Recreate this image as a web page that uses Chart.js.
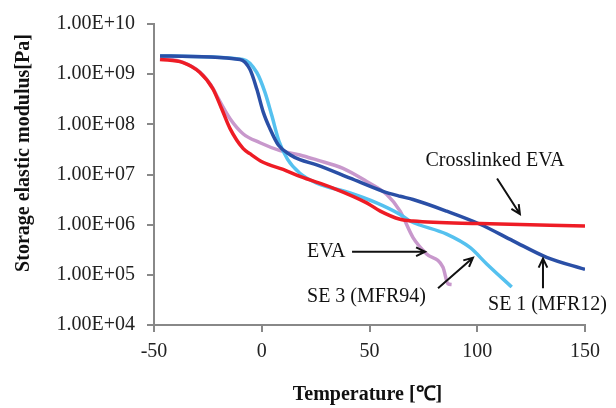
<!DOCTYPE html>
<html>
<head>
<meta charset="utf-8">
<script src="https://cdn.jsdelivr.net/npm/chart.js@4.4.1/dist/chart.umd.min.js"></script>
<style>
  html, body { margin: 0; padding: 0; background: #fff; }
  #myChart { display: block; }
</style>
</head>
<body>
<canvas id="myChart" width="616" height="408"></canvas>
<script>
// storage modulus vs temperature, one pair of arrays per sample
let xlTemp = [-47.2, -36.5, -28.7, -22.6, -18.6, -14.7, -8.7, -5.5, 0.6, 9.9, 17.7, 33.1, 48.7, 55, 64.2, 70.2, 101.3, 150];
let xlModulus = [1.97e9, 1.70e9, 1.08e9, 5.05e8, 2.04e8, 8.2e7, 3.31e7, 2.6e7, 1.75e7, 1.26e7, 9.14e6, 5.37e6, 2.72e6, 1.86e6, 1.28e6, 1.18e6, 1.05e6, 9.4e5];

let se1Temp = [-47.2, -10.1, -5.5, -2.3, 0.7, 3.8, 7.7, 13.1, 17.7, 25.5, 41, 56.3, 64.2, 70.2, 85.8, 101.3, 116.6, 132.2, 150];
let se1Modulus = [2.31e9, 1.97e9, 1.25e9, 5.05e8, 1.75e8, 8.2e7, 3.86e7, 2.48e7, 1.98e7, 1.56e7, 8.46e6, 4.62e6, 3.68e6, 3.17e6, 1.86e6, 1.02e6, 4.76e5, 2.23e5, 1.28e5];

let se3Temp = [-47.2, -8.7, -2.3, 1.5, 4.6, 8.0, 12.0, 17.7, 25.5, 41, 53.3, 64.2, 68.8, 85.8, 96.6, 104.4, 116];
let se3Modulus = [2.31e9, 1.97e9, 1.08e9, 4.34e8, 1.53e8, 4.6e7, 2.0e7, 1.06e7, 6.73e6, 4.28e6, 2.72e6, 1.60e6, 1.18e6, 6.46e5, 3.51e5, 1.65e5, 5.7e4];

let evaTemp = [-47.2, -36.5, -28.7, -22.6, -20.9, -14.7, -8.7, -0.8, 8.5, 17.7, 25.5, 37.7, 48.7, 58, 64.2, 70.2, 76.5, 84.1, 86.4, 88.1];
let evaModulus = [2.13e9, 1.72e9, 1.1e9, 5.2e8, 3.74e8, 1.29e8, 6.5e7, 4.3e7, 3.0e7, 2.45e7, 1.95e7, 1.33e7, 7.28e6, 3.98e6, 1.86e6, 5.53e5, 2.6e5, 1.42e5, 6.65e4, 6.4e4];

let xTicks = [-50, 0, 50, 100, 150];
let yExponents = [4, 5, 6, 7, 8, 9, 10];

function pts(t, v) {
  return t.map((x, i) => ({ x: x, y: v[i] }));
}

function line(label, t, v, color) {
  return {
    label: label,
    data: pts(t, v),
    borderColor: color,
    borderWidth: 3.5,
    pointRadius: 0,
    fill: false,
    cubicInterpolationMode: "monotone",
  };
}

// callouts, placed in data units (temperature, modulus)
let notes = [
  { text: "Crosslinked EVA", x: 108.2, y: 10 ** 7.277, align: "center", from: [109.2, 10 ** 6.921], to: [119.8, 10 ** 6.211] },
  { text: "EVA", x: 21.0, y: 10 ** 5.461, align: "left", from: [41.9, 10 ** 5.461], to: [75.8, 10 ** 5.461] },
  { text: "SE 3 (MFR94)", x: 21.0, y: 10 ** 4.573, align: "left", from: [81.8, 10 ** 4.731], to: [98.0, 10 ** 5.342] },
  { text: "SE 1 (MFR12)", x: 105.0, y: 10 ** 4.395, align: "left", from: [130.5, 10 ** 4.731], to: [130.5, 10 ** 5.323] },
];

let serif = "'Liberation Serif', 'Times New Roman', serif";

let notesPlugin = {
  id: "notes",
  afterDraw(chart) {
    let ctx = chart.ctx;
    let xs = chart.scales.x;
    let ys = chart.scales.y;
    ctx.save();
    ctx.fillStyle = "#111";
    ctx.strokeStyle = "#111";
    ctx.lineWidth = 2;
    ctx.font = "20px " + serif;
    ctx.textBaseline = "middle";
    notes.forEach((n) => {
      ctx.textAlign = n.align;
      ctx.fillText(n.text, xs.getPixelForValue(n.x), ys.getPixelForValue(n.y));
      let x0 = xs.getPixelForValue(n.from[0]);
      let y0 = ys.getPixelForValue(n.from[1]);
      let x1 = xs.getPixelForValue(n.to[0]);
      let y1 = ys.getPixelForValue(n.to[1]);
      let a = Math.atan2(y1 - y0, x1 - x0);
      ctx.beginPath();
      ctx.moveTo(x0, y0);
      ctx.lineTo(x1, y1);
      ctx.moveTo(x1 - 10 * Math.cos(a - 0.45), y1 - 10 * Math.sin(a - 0.45));
      ctx.lineTo(x1, y1);
      ctx.lineTo(x1 - 10 * Math.cos(a + 0.45), y1 - 10 * Math.sin(a + 0.45));
      ctx.stroke();
    });

    // axis titles
    ctx.font = "bold 20px " + serif;
    ctx.textAlign = "center";
    ctx.fillText("Temperature [\u2103]", (xs.left + xs.right) / 2 - 2, 395);
    ctx.translate(24, 153);
    ctx.rotate(-Math.PI / 2);
    ctx.fillText("Storage elastic modulus[Pa]", 0, 0);
    ctx.restore();
  },
};

let myChart = document.getElementById("myChart").getContext("2d");

let config = {
  type: "line",
  data: {
    datasets: [
      line("Crosslinked EVA", xlTemp, xlModulus, "#ee1c25"),
      line("SE 1 (MFR12)", se1Temp, se1Modulus, "#2a4fa6"),
      line("SE 3 (MFR94)", se3Temp, se3Modulus, "#55c1ef"),
      line("EVA", evaTemp, evaModulus, "#c898cc"),
    ],
  },
  options: {
    responsive: false,
    animation: false,
    devicePixelRatio: 1,
    layout: { padding: { top: 21, right: 31, left: 0, bottom: 0 } },
    plugins: { legend: { display: false }, tooltip: { enabled: false } },
    scales: {
      x: {
        type: "linear",
        min: -50,
        max: 150,
        afterFit(scale) {
          scale.height = 83;
        },
        afterBuildTicks(scale) {
          scale.ticks = xTicks.map((v) => ({ value: v }));
        },
        grid: { drawOnChartArea: false, drawTicks: true, tickLength: 7, color: "#888", lineWidth: 2 },
        border: { display: true, color: "#888", width: 2 },
        ticks: { color: "#222", font: { family: serif, size: 20 }, padding: 8, maxRotation: 0 },
      },
      y: {
        type: "logarithmic",
        min: 1e4,
        max: 1e10,
        afterFit(scale) {
          scale.width = 154;
        },
        afterBuildTicks(scale) {
          scale.ticks = yExponents.map((e) => ({ value: 10 ** e }));
        },
        grid: { drawOnChartArea: false, drawTicks: true, tickLength: 7, color: "#888", lineWidth: 2 },
        border: { display: true, color: "#888", width: 2 },
        ticks: {
          color: "#222",
          font: { family: serif, size: 20 },
          padding: 12,
          callback: (v) => v.toExponential(2).toUpperCase().replace(/E\+(\d)$/, "E+0$1"),
        },
      },
    },
  },
  plugins: [notesPlugin],
};

let modulusChart = new Chart(myChart, config);
</script>
</body>
</html>
